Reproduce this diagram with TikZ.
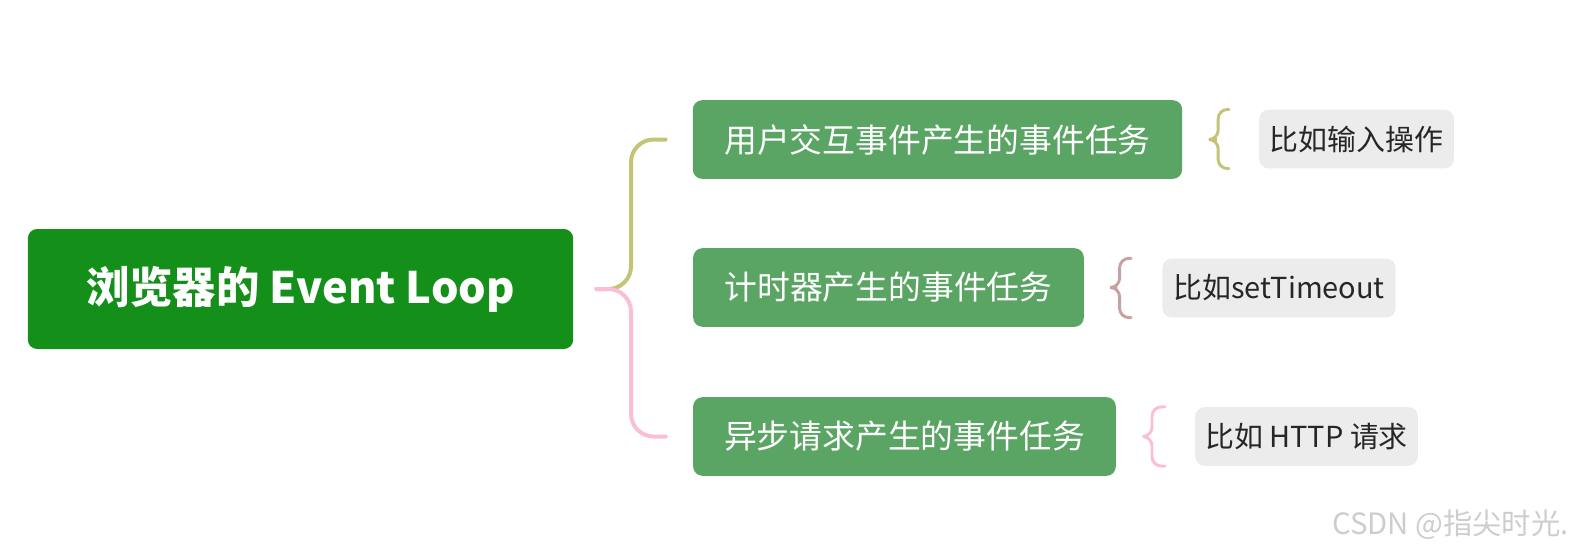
\documentclass[tikz,border=0pt]{standalone}
\usepackage{fontspec}
\setmainfont{Noto Sans CJK SC}
\usepackage{tikz}
\usetikzlibrary{positioning, calc}
\definecolor{rootGreen}{RGB}{19, 143, 26}
\definecolor{taskGreen}{RGB}{90, 164, 100}
\definecolor{egGray}{RGB}{236, 236, 236}
\definecolor{braceOlive}{RGB}{195, 196, 120}
\definecolor{braceRose}{RGB}{200, 160, 160}
\definecolor{bracePink}{RGB}{250, 190, 215}
\definecolor{markGray}{RGB}{205, 205, 205}
\tikzset{
  rootnode/.style={
    rectangle, rounded corners=7pt,
    fill=rootGreen, text=white,
    minimum width=409pt, minimum height=90pt,
    align=center, font=\fontsize{32.5}{38}\selectfont\bfseries
  },
  tasknode/.style={
    rectangle, rounded corners=7pt,
    fill=taskGreen, text=white,
    minimum height=59pt,
    align=center, font=\fontsize{24.6}{29}\selectfont
  },
  egnode/.style={
    rectangle, rounded corners=7pt,
    fill=egGray, text=black!85,
    minimum height=44pt,
    align=center, font=\fontsize{21.7}{25}\selectfont
  }
}

\begin{document}
\begin{tikzpicture}[
  x=0.75pt, y=-0.75pt,
  bigbrace/.style={line width=3pt, line cap=round, rounded corners=17pt},
  smallbrace/.style={line width=2.2pt, line cap=round, rounded corners=7pt}
]
  \useasboundingbox (0,0) rectangle (1577,557);

  % root and the three kinds of task
  \node[rootnode] (root) at (300.5, 289) {浏览器的 Event Loop};
  \node[tasknode, minimum width=367pt] (task1) at (937.5, 139.5) {用户交互事件产生的事件任务};
  \node[tasknode, minimum width=293pt] (task2) at (888.5, 287.5) {计时器产生的事件任务};
  \node[tasknode, minimum width=317pt] (task3) at (904.5, 436.5) {异步请求产生的事件任务};

  % examples
  \node[egnode, minimum width=146pt] (eg1) at (1356.5, 139) {比如输入操作};
  \node[egnode, minimum width=175pt] (eg2) at (1279, 288) {比如setTimeout};
  \node[egnode, minimum width=167pt] (eg3) at (1306.5, 436.5) {比如 HTTP 请求};

  % big brace root -> tasks
  \coordinate (bt) at ($(root.east)+(23,0)$);
  \coordinate (be1) at ($(task1.west)+(-27,0)$);
  \coordinate (be3) at ($(task3.west)+(-27,0)$);
  \coordinate (bm) at ($(bt)!0.5!(be1)$);
  \draw[bigbrace, braceOlive] (bt) -| (bm |- be1) -- (be1);
  \draw[bigbrace, bracePink] (bt) -| (bm |- be3) -- (be3);

  % small braces task -> example
  \coordinate (s1t) at ($(task1.east)+(25,0)$);
  \coordinate (s1a) at ($(eg1.north west)+(-30,0)$);
  \coordinate (s1b) at ($(eg1.south west)+(-30,0)$);
  \coordinate (s1m) at ($(s1t)!0.5!(s1a |- s1t)$);
  \draw[smallbrace, braceOlive] (s1a) -| (s1m) -- (s1t) -- (s1m) |- (s1b);

  \coordinate (s2t) at ($(task2.east)+(24,0)$);
  \coordinate (s2a) at ($(eg2.north west)+(-31,0)$);
  \coordinate (s2b) at ($(eg2.south west)+(-31,0)$);
  \coordinate (s2m) at ($(s2t)!0.5!(s2a |- s2t)$);
  \draw[smallbrace, braceRose] (s2a) -| (s2m) -- (s2t) -- (s2m) |- (s2b);

  \coordinate (s3t) at ($(task3.east)+(23,0)$);
  \coordinate (s3a) at ($(eg3.north west)+(-30,0)$);
  \coordinate (s3b) at ($(eg3.south west)+(-30,0)$);
  \coordinate (s3m) at ($(s3t)!0.5!(s3a |- s3t)$);
  \draw[smallbrace, bracePink] (s3a) -| (s3m) -- (s3t) -- (s3m) |- (s3b);

  % watermark
  \node[anchor=east, text=markGray, font=\fontsize{22}{26}\selectfont, inner sep=0pt]
    (mark) at (1569, 525) {CSDN @指尖时光.};
\end{tikzpicture}
\end{document}
